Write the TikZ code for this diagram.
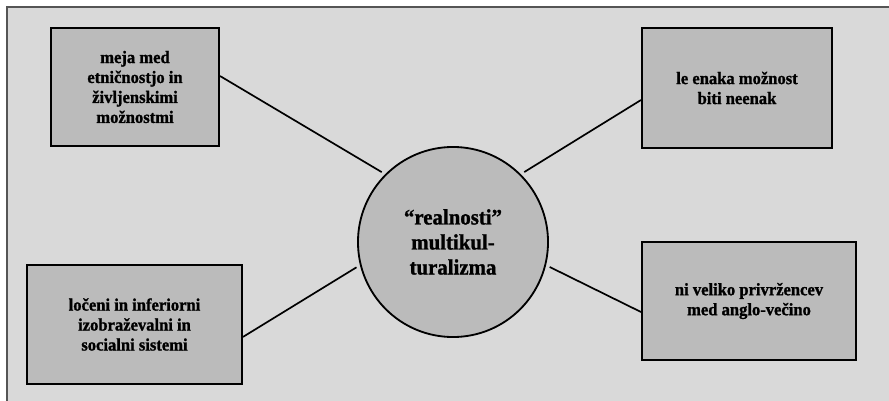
\documentclass[tikz,border=0pt]{standalone}
\usepackage{xcolor}
\usepackage{fontspec}
\setmainfont{Liberation Serif}[FakeStretch=0.95, BoldFeatures={FakeBold=1.2}]
\usepackage{tikz}

\definecolor{panelgray}{HTML}{D9D9D9}
\definecolor{boxgray}{HTML}{BBBBBB}
\definecolor{framegray}{HTML}{555555}

\begin{document}
\begin{tikzpicture}[
    x=0.025cm, y=-0.025cm,
    every node/.style={font=\bfseries\fontsize{12.4}{14.2}\selectfont},
    idea/.style={rectangle, draw, line width=1.4pt, align=center, fill=boxgray,
                 inner sep=0pt},
    core/.style={circle, draw, line width=1.3pt, align=center, fill=boxgray,
                 minimum size=4.75cm, inner sep=0pt,
                 font=\bfseries\fontsize{15.6}{17.8}\selectfont},
    link/.style={line width=1.2pt, shorten >=0.1cm}
]

\useasboundingbox (0,0) rectangle (889,401);

% Background panel
\fill[panelgray] (7,7) rectangle (889,401);
\draw[framegray, line width=0.8pt] (7,401) -- (7,7) -- (889,7);

% Centre
\node[core] (real) at (453,242) {“realnosti”\\ multikul-\\ turalizma};

% Four surrounding statements
\node[idea, minimum width=4.2cm, minimum height=2.95cm] (mej) at (135,87)
    {meja med\\ etničnostjo in\\ življenskimi\\ možnostmi};
\node[idea, minimum width=4.75cm, minimum height=3.0cm] (enak) at (737,88)
    {le enaka možnost\\ biti neenak};
\node[idea, minimum width=5.375cm, minimum height=2.975cm] (loc) at (134.5,324.5)
    {ločeni in inferiorni\\ izobraževalni in\\ socialni sistemi};
\node[idea, minimum width=5.35cm, minimum height=2.95cm] (priv) at (749,301)
    {ni veliko privržencev\\ med anglo-večino};

% Links
\draw[link] ([yshift=0.275cm]mej.east) -- (real.135);
\draw[link] ([yshift=-0.3cm]enak.west) -- (real.45);
\draw[link] ([yshift=-0.31cm]loc.east) -- (real.194);
\draw[link] ([yshift=-0.275cm]priv.west) -- (real.-14);

\end{tikzpicture}
\end{document}
